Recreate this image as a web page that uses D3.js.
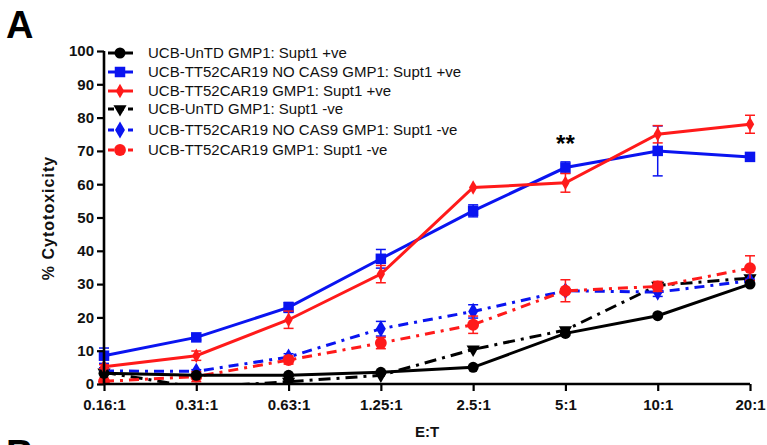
<!DOCTYPE html>
<html lang="en">
<head>
<script type="text/javascript" src="https://cdnjs.cloudflare.com/ajax/libs/d3/7.8.5/d3.min.js"></script>
<style>
  body { margin: 0; background: #fff; }
  text { font-family: Arial, "Liberation Sans", sans-serif; }
</style>
</head>
<body>
<div id="container"></div>
<script type="text/javascript">
    var w = 767;
    var h = 445;

    var ratios = ["0.16:1", "0.31:1", "0.63:1", "1.25:1", "2.5:1", "5:1", "10:1", "20:1"];
    var yTicks = [0, 10, 20, 30, 40, 50, 60, 70, 80, 90, 100];

    // mean values, % cytotoxicity
    var untdPos   = [3.2, 2.6, 2.6, 3.5, 5.0, 15.2, 20.5, 30.0];
    var noCasPos  = [8.5, 14.0, 23.0, 37.6, 52.0, 65.0, 70.0, 68.2];
    var carPos    = [5.2, 8.5, 19.3, 33.0, 59.0, 60.4, 75.0, 78.0];
    var untdNeg   = [3.5, -1.0, 0.7, 2.6, 10.4, 16.2, 29.6, 31.8];
    var noCasNeg  = [3.9, 3.8, 8.1, 16.6, 21.8, 28.0, 27.6, 31.0];
    var carNeg    = [0.8, 2.2, 7.2, 12.3, 17.8, 28.0, 29.3, 34.8];

    // error (SEM)
    var untdPosErr  = [0, 0, 0, 0, 0, 0, 0, 0];
    var noCasPosErr = [2.3, 0.8, 1.5, 2.8, 1.8, 1.7, 7.5, 0.6];
    var carPosErr   = [0.6, 1.4, 2.6, 2.6, 0, 2.8, 2.6, 2.7];
    var untdNegErr  = [0, 0, 0, 0, 0, 0.6, 0, 0];
    var noCasNegErr = [1.0, 0.5, 1.0, 2.2, 2.0, 0.5, 1.3, 0.5];
    var carNegErr   = [0.5, 1.5, 1.2, 1.7, 2.6, 3.3, 1.5, 3.7];

    var seriesNames = [
        "UCB-UnTD GMP1: Supt1 +ve",
        "UCB-TT52CAR19 NO CAS9 GMP1: Supt1 +ve",
        "UCB-TT52CAR19 GMP1: Supt1 +ve",
        "UCB-UnTD GMP1: Supt1 -ve",
        "UCB-TT52CAR19 NO CAS9 GMP1: Supt1 -ve",
        "UCB-TT52CAR19 GMP1: Supt1 -ve"
    ];

    var series = [
        {name: seriesNames[0], vals: untdPos,  err: untdPosErr,  color: "#000000", dash: null,          sym: d3.symbolCircle,   size: 95},
        {name: seriesNames[1], vals: noCasPos, err: noCasPosErr, color: "#0a14f0", dash: null,          sym: d3.symbolSquare,   size: 110},
        {name: seriesNames[2], vals: carPos,   err: carPosErr,   color: "#ff1a1a", dash: null,          sym: d3.symbolDiamond,  size: 60},
        {name: seriesNames[3], vals: untdNeg,  err: untdNegErr,  color: "#000000", dash: "12,6,3,6",    sym: d3.symbolTriangle, size: 75, flip: true},
        {name: seriesNames[4], vals: noCasNeg, err: noCasNegErr, color: "#0a14f0", dash: "10,6,3,6",    sym: d3.symbolDiamond,  size: 85},
        {name: seriesNames[5], vals: carNeg,   err: carNegErr,   color: "#ff1a1a", dash: "10,6,3,6",    sym: d3.symbolCircle,   size: 110}
    ];

    var svg = d3.select("#container")
                .append("svg")
                .attr("width", w)
                .attr("height", h);

    var xscale = d3.scalePoint()
                   .domain(ratios)
                   .range([104, 750]);

    var yscale = d3.scaleLinear()
                   .domain([0, 100])
                   .range([384, 51]);

    svg.append("defs").append("clipPath").attr("id", "plotclip")
       .append("rect")
       .attr("x", 90).attr("y", 20)
       .attr("width", 680).attr("height", yscale(0) - 20);

    var plot = svg.append("g").attr("clip-path", "url(#plotclip)");

    var line = d3.line()
                 .x(function(d, i) { return xscale(ratios[i]); })
                 .y(function(d) { return yscale(d); });

    // lines, drawn -ve first so solid lines sit on top
    var order = [3, 4, 5, 0, 1, 2];
    order.forEach(function(k) {
        var s = series[k];
        var g = plot.append("g");

        g.append("path")
         .datum(s.vals)
         .attr("d", line)
         .attr("fill", "none")
         .attr("stroke", s.color)
         .attr("stroke-width", 3)
         .attr("stroke-dasharray", s.dash);

        s.vals.forEach(function(v, i) {
            var e = s.err[i];
            if (e <= 0) return;
            var x = xscale(ratios[i]);
            g.append("line")
             .attr("x1", x).attr("x2", x)
             .attr("y1", yscale(v - e)).attr("y2", yscale(v + e))
             .attr("stroke", s.color).attr("stroke-width", 1.5);
            [v - e, v + e].forEach(function(c) {
                g.append("line")
                 .attr("x1", x - 5).attr("x2", x + 5)
                 .attr("y1", yscale(c)).attr("y2", yscale(c))
                 .attr("stroke", s.color).attr("stroke-width", 1.5);
            });
        });

        g.selectAll("path.mark")
         .data(s.vals)
         .enter()
         .append("path")
         .attr("class", "mark")
         .attr("d", d3.symbol().type(s.sym).size(s.size))
         .attr("transform", function(d, i) {
             return "translate(" + xscale(ratios[i]) + "," + yscale(d) + ")" + (s.flip ? " rotate(180)" : "");
         })
         .attr("fill", s.color);
    });

    // axes
    var yAxis = d3.axisLeft(yscale)
                  .tickValues(yTicks)
                  .tickSize(7)
                  .tickPadding(3);

    var gy = svg.append("g")
                .attr("transform", "translate(104,0)")
                .call(yAxis);

    var xAxis = d3.axisBottom(xscale)
                  .tickSize(7)
                  .tickPadding(8);

    var gx = svg.append("g")
                .attr("transform", "translate(0,384)")
                .call(xAxis);

    [gx, gy].forEach(function(g) {
        g.select(".domain").attr("stroke", "#000").attr("stroke-width", 2.6);
        g.selectAll(".tick line").attr("stroke", "#000").attr("stroke-width", 2.2);
        g.selectAll(".tick text")
         .attr("fill", "#111")
         .attr("font-size", 15)
         .attr("font-weight", "bold")
         .attr("font-family", "Arial, 'Liberation Sans', sans-serif");
    });
    gy.select(".domain").attr("d", "M0,384V51");
    gx.select(".domain").attr("d", "M104,0H750");

    // axis titles
    svg.append("text")
       .attr("transform", "translate(54,218) rotate(-90)")
       .attr("text-anchor", "middle")
       .attr("font-size", 16)
       .attr("font-weight", "bold")
       .attr("letter-spacing", 1)
       .attr("fill", "#111")
       .text("%  Cytotoxicity");

    svg.append("text")
       .attr("x", 427)
       .attr("y", 437)
       .attr("text-anchor", "middle")
       .attr("font-size", 15)
       .attr("font-weight", "bold")
       .attr("fill", "#111")
       .text("E:T");

    // panel letters
    svg.append("text")
       .attr("x", 6).attr("y", 38)
       .attr("font-size", 38)
       .attr("font-weight", "bold")
       .attr("fill", "#000")
       .text("A");

    svg.append("text")
       .attr("x", 6).attr("y", 467)
       .attr("font-size", 38)
       .attr("font-weight", "bold")
       .attr("fill", "#000")
       .text("B");

    // significance mark
    svg.append("text")
       .attr("x", xscale("5:1"))
       .attr("y", 152)
       .attr("text-anchor", "middle")
       .attr("font-size", 24)
       .attr("font-weight", "bold")
       .attr("fill", "#000")
       .text("**");

    // legend
    var legendY = [53, 72, 91, 109, 130, 150];
    var legend = svg.append("g");
    series.forEach(function(s, i) {
        var y = legendY[i];
        legend.append("line")
              .attr("x1", 108).attr("x2", 133)
              .attr("y1", y).attr("y2", y)
              .attr("stroke", s.color)
              .attr("stroke-width", 3)
              .attr("stroke-dasharray", s.dash ? "6,4" : null);
        legend.append("path")
              .attr("d", d3.symbol().type(s.sym).size(s.size))
              .attr("transform", "translate(120," + y + ")" + (s.flip ? " rotate(180)" : ""))
              .attr("fill", s.color);
        legend.append("text")
              .attr("x", 148)
              .attr("y", y + 5)
              .attr("font-size", 15)
              .attr("fill", "#111")
              .text(s.name);
    });
</script>
</body>
</html>
